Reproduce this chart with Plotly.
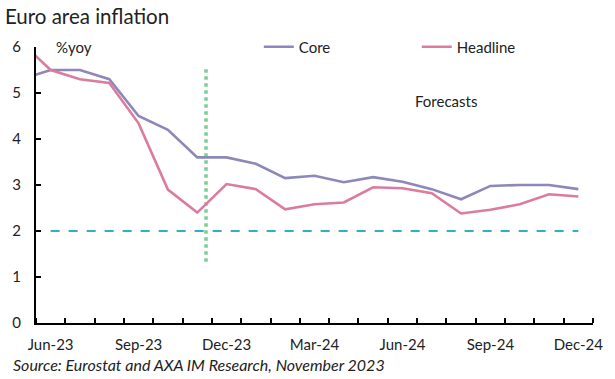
import plotly.graph_objects as go

months = ["May-23", "Jun-23", "Jul-23", "Aug-23", "Sep-23", "Oct-23", "Nov-23", "Dec-23",
          "Jan-24", "Feb-24", "Mar-24", "Apr-24", "May-24", "Jun-24", "Jul-24", "Aug-24",
          "Sep-24", "Oct-24", "Nov-24", "Dec-24"]
core = [5.3, 5.5, 5.5, 5.3, 4.5, 4.2, 3.6, 3.6, 3.46, 3.15, 3.2, 3.06, 3.17, 3.07, 2.91, 2.69,
        2.98, 3.0, 3.0, 2.91]
headline = [6.1, 5.5, 5.3, 5.22, 4.34, 2.9, 2.4, 3.02, 2.91, 2.47, 2.58, 2.62, 2.95, 2.93, 2.82,
            2.38, 2.46, 2.58, 2.8, 2.75]
tick_labels = ["Jun-23", "Sep-23", "Dec-23", "Mar-24", "Jun-24", "Sep-24", "Dec-24"]
target_x = ["Jun-23", "Dec-24"]
target_y = [2, 2]
forecast_x = [5.3, 5.3]
forecast_y = [1.33, 5.57]

# numeric positions: Jun-23 = 0
pos = {m: i - 1 for i, m in enumerate(months)}
xs = [pos[m] for m in months]

FONT = "Lato"
fig = go.Figure()
fig.add_trace(go.Scatter(x=[pos[m] for m in target_x], y=target_y, mode="lines",
                         line=dict(color="#2BB3C3", width=1.8, dash="dash"),
                         showlegend=False, hoverinfo="skip"))
fig.add_trace(go.Scatter(x=forecast_x, y=forecast_y, mode="lines",
                         line=dict(color="#7DCE92", width=3.5, dash="dot"),
                         showlegend=False, hoverinfo="skip"))
fig.add_trace(go.Scatter(x=xs, y=core, mode="lines", name="Core",
                         line=dict(color="#8C88BA", width=2.6)))
fig.add_trace(go.Scatter(x=xs, y=headline, mode="lines", name="Headline",
                         line=dict(color="#DB7C9F", width=2.6)))

fig.update_layout(
    width=615, height=379,
    margin=dict(l=34.5, r=15, t=47, b=56),
    paper_bgcolor="white", plot_bgcolor="white",
    font=dict(family=FONT, size=15, color="#222222"),
    title=dict(text="Euro area inflation", x=0.008, xanchor="left", y=0.975, yanchor="top",
               font=dict(size=20.5, family=FONT, color="#222222")),
    legend=dict(orientation="h", x=0.40, xanchor="left", y=1.0, yanchor="middle",
                entrywidth=113, font=dict(size=15), bgcolor="rgba(0,0,0,0)"),
    xaxis=dict(range=[-0.5, 18.5], tickmode="array",
               tickvals=[pos[m] for m in tick_labels], ticktext=tick_labels,
               ticks="", showgrid=False, zeroline=False, showline=True,
               linecolor="black", linewidth=2, ticklabelstandoff=7,
               minor=dict(tickmode="linear", tick0=-0.5, dtick=1, ticks="inside",
                          ticklen=5, tickcolor="black", tickwidth=1.5, showgrid=False)),
    yaxis=dict(range=[0, 6], dtick=1, ticks="inside", ticklen=5, tickwidth=1.5,
               tickcolor="black", showgrid=False, zeroline=False, showline=True,
               linecolor="black", linewidth=2, ticklabelstandoff=10),
    annotations=[
        dict(text="%yoy", xref="paper", yref="paper", x=0.032, y=1.0, xanchor="left",
             yanchor="middle", showarrow=False, font=dict(size=15)),
        dict(text="Forecasts", xref="x", yref="y", x=13.5, y=4.83, showarrow=False,
             font=dict(size=15)),
        dict(text="<i>Source: Eurostat and AXA IM Research, November 2023</i>",
             xref="paper", yref="paper", x=-0.045, y=-0.152, xanchor="left",
             yanchor="middle", showarrow=False, font=dict(size=16)),
    ],
)
fig.write_html("out.html", config={"displayModeBar": False},
               post_script="document.body.style.margin='0';")
